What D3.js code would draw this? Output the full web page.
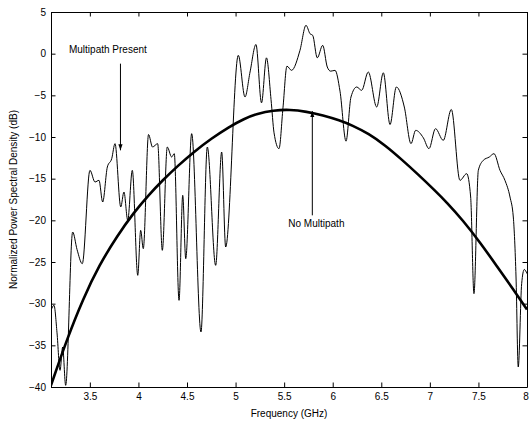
<!DOCTYPE html>
<html>
<head>
<meta charset="utf-8">
<script src="https://cdn.jsdelivr.net/npm/d3@7/dist/d3.min.js"></script>
<style>
  html, body { margin: 0; padding: 0; background: #fff; }
  svg { display: block; font-family: "Liberation Sans", Arial, Helvetica, sans-serif; }
  .axis text { font-size: 10px; fill: #000; }
  .axis path, .axis line { stroke: #000; stroke-width: 1; }
</style>
</head>
<body>
<svg id="chart" width="529" height="424"></svg>
<script>
// Measured spectrum with multipath (frequency in GHz, PSD in dB)
const multipathFreq = [
  3.100, 3.131, 3.162, 3.193, 3.220, 3.251, 3.323, 3.368, 3.422, 3.501,
  3.553, 3.594, 3.632, 3.680, 3.725, 3.759, 3.818, 3.851, 3.890, 3.937,
  3.993, 4.023, 4.050, 4.104, 4.145, 4.198, 4.246, 4.297, 4.342, 4.369,
  4.418, 4.456, 4.487, 4.548, 4.644, 4.709, 4.795, 4.857, 4.898, 5.028,
  5.097, 5.149, 5.210, 5.267, 5.318, 5.365, 5.396, 5.447, 5.488, 5.529,
  5.576, 5.663, 5.725, 5.766, 5.794, 5.841, 5.897, 5.944, 5.979, 6.024,
  6.075, 6.137, 6.188, 6.247, 6.298, 6.366, 6.453, 6.521, 6.590, 6.655,
  6.737, 6.806, 6.854, 6.933, 6.991, 7.058, 7.138, 7.221, 7.310, 7.379,
  7.420, 7.454, 7.499, 7.550, 7.612, 7.660, 7.722, 7.773, 7.825, 7.859,
  7.887, 7.910, 7.945, 7.972, 8.000
];
const multipathDb = [
  -30.8, -30.2, -33.5, -38.0, -35.2, -39.8, -21.4, -23.5, -25.2, -14.0,
  -15.4, -15.2, -17.8, -13.6, -12.6, -10.8, -18.4, -16.6, -20.0, -14.0,
  -26.6, -21.2, -23.4, -9.7, -11.2, -10.8, -23.6, -11.2, -12.4, -12.0,
  -29.6, -17.0, -24.6, -9.6, -33.4, -11.2, -25.4, -11.8, -23.2, -0.2,
  -5.2, -2.2, 1.1, -5.9, -0.5, -5.5, -9.5, -11.4, -6.5, -1.5,
  -2.0, 0.4, 3.4, 2.4, 2.2, -0.5, 1.0, -1.6, -2.1, -2.0,
  -4.5, -10.5, -5.2, -4.0, -4.4, -2.2, -6.4, -2.3, -8.5, -4.0,
  -6.4, -10.8, -9.2, -10.1, -11.4, -9.0, -10.4, -6.7, -15.2, -14.4,
  -17.2, -28.8, -14.0, -12.8, -12.4, -12.0, -14.0, -15.2, -17.2, -19.6,
  -26.8, -37.6, -27.6, -25.9, -26.4
];

// Reference spectrum without multipath
const noMultipathFreq = [
  3.10, 3.26, 3.43, 3.60, 3.78, 3.95, 4.11, 4.24, 4.41, 4.58,
  4.75, 4.93, 5.09, 5.22, 5.39, 5.56, 5.73, 5.90, 6.07, 6.20,
  6.37, 6.54, 6.71, 6.88, 7.05, 7.17, 7.34, 7.52, 7.69, 7.86, 8.00
];
const noMultipathDb = [
  -39.8, -34.4, -29.4, -25.3, -21.9, -19.1, -16.9, -15.3, -13.4, -11.7,
  -10.2, -8.8, -7.8, -7.2, -6.8, -6.7, -6.95, -7.4, -8.0, -8.6,
  -9.6, -11.0, -12.7, -14.5, -16.4, -17.8, -20.0, -22.7, -25.5, -28.3, -30.7
];

const xTicks = [3.5, 4, 4.5, 5, 5.5, 6, 6.5, 7, 7.5, 8];
const yTicks = [-40, -35, -30, -25, -20, -15, -10, -5, 0, 5];

// Annotation anchors in data units
const annotations = [
  { label: "Multipath Present", textF: 3.285, textDb: 0.1, arrowF: 3.815, fromDb: -1.2, toDb: -11.6 },
  { label: "No Multipath", textF: 5.543, textDb: -20.8, arrowF: 5.79, fromDb: -19.4, toDb: -6.9 }
];

const width = 529, height = 424;
const margin = { top: 12, right: 2, bottom: 37, left: 51 };
const innerW = width - margin.left - margin.right;
const innerH = height - margin.top - margin.bottom;

const svg = d3.select("#chart");
const g = svg.append("g").attr("transform", `translate(${margin.left},${margin.top})`);

const x = d3.scaleLinear().domain([3.1, 8]).range([0, innerW]);
const y = d3.scaleLinear().domain([-40, 5]).range([innerH, 0]);

// shortest form: "4", "3.5", "−40"
const fmt = d3.format("~g");

const defs = svg.append("defs");
// Arrowhead marker
defs.append("marker")
  .attr("id", "arrow")
  .attr("viewBox", "0 0 10 10")
  .attr("refX", 10).attr("refY", 5)
  .attr("markerWidth", 6).attr("markerHeight", 6)
  .attr("markerUnits", "userSpaceOnUse")
  .attr("orient", "auto")
  .append("path")
  .attr("d", "M0,1.5 L10,5 L0,8.5 Z")
  .attr("fill", "#000");

defs.append("clipPath").attr("id", "plot-clip")
  .append("rect").attr("width", innerW).attr("height", innerH);

// Axes with inward ticks on all four sides
const xAxisG = g.append("g").attr("class", "axis")
  .attr("transform", `translate(0,${innerH})`)
  .call(d3.axisBottom(x).tickValues(xTicks).tickFormat(fmt)
    .tickSizeInner(-4.5).tickSizeOuter(0).tickPadding(6));
// keep the last tick label inside the page
xAxisG.selectAll(".tick text").filter(d => d === 8).attr("dx", -1.5);

g.append("g").attr("class", "axis")
  .call(d3.axisTop(x).tickValues(xTicks).tickSizeInner(-4.5).tickSizeOuter(0).tickFormat(""));
g.append("g").attr("class", "axis")
  .call(d3.axisLeft(y).tickValues(yTicks).tickFormat(fmt)
    .tickSizeInner(-4.5).tickSizeOuter(0).tickPadding(5));
g.append("g").attr("class", "axis")
  .attr("transform", `translate(${innerW},0)`)
  .call(d3.axisRight(y).tickValues(yTicks).tickSizeInner(-4.5).tickSizeOuter(0).tickFormat(""));

const plot = g.append("g").attr("clip-path", "url(#plot-clip)");

const mpData = multipathFreq.map((f, i) => [f, multipathDb[i]]);
const nmData = noMultipathFreq.map((f, i) => [f, noMultipathDb[i]]);

plot.append("path")
  .datum(mpData)
  .attr("fill", "none").attr("stroke", "#000").attr("stroke-width", 1)
  .attr("d", d3.line().x(d => x(d[0])).y(d => y(d[1])).curve(d3.curveMonotoneX));

plot.append("path")
  .datum(nmData)
  .attr("fill", "none").attr("stroke", "#000").attr("stroke-width", 2.6)
  .attr("d", d3.line().x(d => x(d[0])).y(d => y(d[1])).curve(d3.curveBasis));

// Annotations
annotations.forEach(a => {
  g.append("line")
    .attr("x1", x(a.arrowF)).attr("x2", x(a.arrowF))
    .attr("y1", y(a.fromDb)).attr("y2", y(a.toDb))
    .attr("stroke", "#000").attr("stroke-width", 1)
    .attr("marker-end", "url(#arrow)");
  g.append("text")
    .attr("x", x(a.textF)).attr("y", y(a.textDb))
    .attr("font-size", 10).attr("fill", "#000")
    .text(a.label);
});

// Axis titles
svg.append("text")
  .attr("x", margin.left + innerW / 2).attr("y", 417)
  .attr("text-anchor", "middle").attr("font-size", 10)
  .text("Frequency (GHz)");
svg.append("text")
  .attr("transform", `translate(17,${margin.top + innerH / 2}) rotate(-90)`)
  .attr("text-anchor", "middle").attr("font-size", 10)
  .text("Normalized Power Spectral Density (dB)");
</script>
</body>
</html>
